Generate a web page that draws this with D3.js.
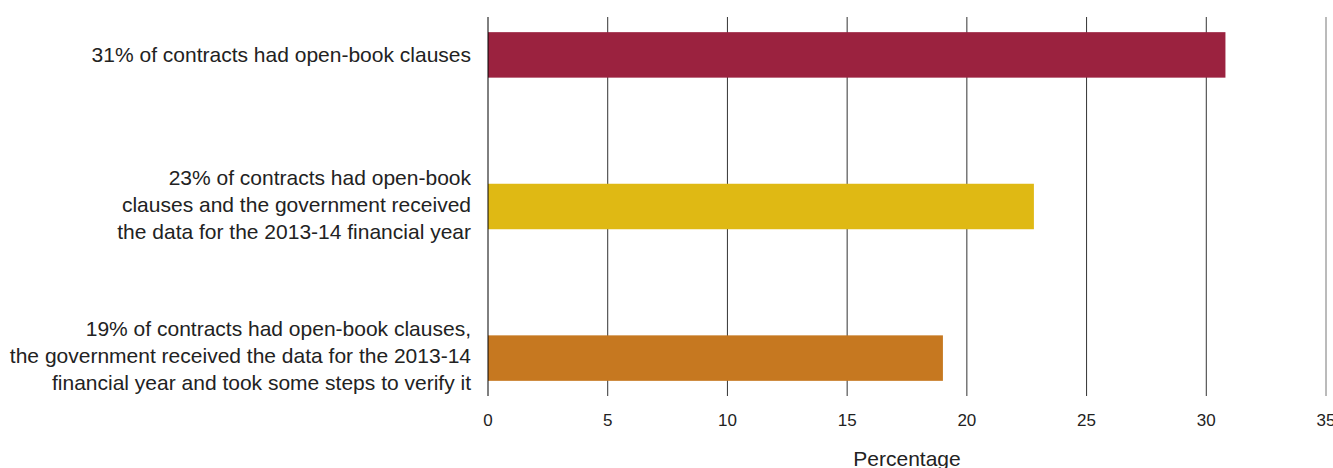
<!DOCTYPE html>
<html>
<head>
<meta charset="utf-8">
<script src="https://cdn.jsdelivr.net/npm/d3@7"></script>
<style>
  body { margin: 0; background: #fff; }
  svg { display: block; font-family: "Liberation Sans", Arial, sans-serif; }
</style>
</head>
<body>
<svg id="chart" width="1333" height="468"></svg>
<script>
const categories = [
  ["31% of contracts had open-book clauses"],
  ["23% of contracts had open-book", "clauses and the government received", "the data for the 2013-14 financial year"],
  ["19% of contracts had open-book clauses,", "the government received the data for the 2013-14", "financial year and took some steps to verify it"]
];
const values = [30.8, 22.8, 19.0];
const colors = ["#9b223f", "#dfb914", "#c67820"];
const xTicks = [0, 5, 10, 15, 20, 25, 30, 35];
const xTitle = "Percentage";

const svg = d3.select("#chart");
const m = { left: 488, right: 1326, top: 17, bottom: 396 };

const x = d3.scaleLinear().domain([0, 35]).range([m.left, m.right]);
const y = d3.scaleBand()
  .domain(d3.range(values.length))
  .range([m.top, m.bottom])
  .paddingInner(0.7)
  .paddingOuter(0.1);

// vertical grid lines
svg.append("g")
  .selectAll("line")
  .data(xTicks.slice(1))
  .join("line")
    .attr("x1", d => x(d)).attr("x2", d => x(d))
    .attr("y1", m.top).attr("y2", m.bottom)
    .attr("stroke", d => d == 35 ? "#777" : "#333")
    .attr("stroke-width", 1);

// bars
svg.append("g")
  .selectAll("rect")
  .data(values)
  .join("rect")
    .attr("x", x(0))
    .attr("y", (d, i) => y(i))
    .attr("width", d => x(d) - x(0))
    .attr("height", y.bandwidth())
    .attr("fill", (d, i) => colors[i]);

// zero line
svg.append("line")
  .attr("x1", x(0)).attr("x2", x(0))
  .attr("y1", m.top).attr("y2", m.bottom)
  .attr("stroke", "#000");

// x tick labels
svg.append("g")
  .attr("text-anchor", "middle")
  .style("font-size", "17px")
  .attr("fill", "#222")
  .selectAll("text")
  .data(xTicks)
  .join("text")
    .attr("x", d => x(d))
    .attr("y", 426)
    .text(d => d);

svg.append("text")
  .attr("x", (m.left + m.right) / 2)
  .attr("y", 466)
  .attr("text-anchor", "middle")
  .style("font-size", "21px")
  .attr("fill", "#222")
  .text(xTitle);

// category labels
const lineH = 27;
svg.append("g")
  .attr("text-anchor", "end")
  .style("font-size", "21px")
  .attr("fill", "#222")
  .selectAll("text")
  .data(categories)
  .join("text")
    .attr("transform", (d, i) => `translate(471,${y(i) + y.bandwidth() / 2 - (d.length - 1)})`)
    .each(function (lines) {
      const t = d3.select(this);
      lines.forEach((s, j) => {
        t.append("tspan")
          .attr("x", 0)
          .attr("y", (j - (lines.length - 1) / 2) * lineH)
          .attr("dy", "0.35em")
          .text(s);
      });
    });
</script>
</body>
</html>
